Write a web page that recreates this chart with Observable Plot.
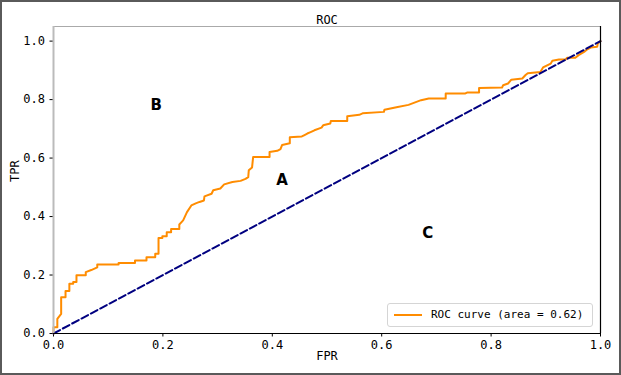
<!DOCTYPE html>
<html>
<head>
<meta charset="utf-8">
<script src="https://cdn.jsdelivr.net/npm/d3@7"></script>
<script src="https://cdn.jsdelivr.net/npm/@observablehq/plot@0.6"></script>
<style>
  html, body { margin: 0; padding: 0; background: #fff; }
  #wrap { position: relative; width: 621px; height: 375px; overflow: hidden; }
  #frame { position: absolute; left: 0; top: 0; width: 621px; height: 375px; box-sizing: border-box; border: 2px solid #5a5a5a; pointer-events: none; }
  #legend { position: absolute; left: 387px; top: 303px; width: 206px; height: 24px; box-sizing: border-box;
    border: 1px solid #d5d5d5; border-radius: 3px; background: rgba(255,255,255,0.85);
    font-family: "DejaVu Sans Mono", monospace; font-size: 11px; color: #000; }
  #legend .sw { position: absolute; left: 6px; top: 10px; width: 28px; height: 0; border-top: 2px solid #ff8c00; }
  #legend .tx { position: absolute; left: 43px; top: 4px; white-space: pre; }
</style>
</head>
<body>
<div id="wrap"></div>
<script>
// ROC curve vertices (false positive rate, true positive rate)
const fpr = [0,0,0.007,0.007,0.014,0.014,0.022,0.022,0.029,0.029,0.036,0.036,0.042,0.042,0.059,0.059,0.069,0.080,0.080,0.119,0.119,0.149,0.149,0.170,0.170,0.186,0.186,0.192,0.192,0.199,0.199,0.207,0.207,0.215,0.215,0.230,0.230,0.237,0.244,0.252,0.260,0.267,0.275,0.276,0.289,0.292,0.305,0.312,0.327,0.342,0.351,0.356,0.357,0.363,0.365,0.395,0.395,0.409,0.415,0.418,0.432,0.432,0.454,0.458,0.464,0.470,0.477,0.490,0.493,0.506,0.507,0.537,0.537,0.559,0.565,0.604,0.605,0.627,0.649,0.672,0.686,0.717,0.717,0.753,0.756,0.778,0.778,0.820,0.822,0.831,0.837,0.857,0.863,0.867,0.890,0.895,0.909,0.912,0.924,0.936,0.939,0.954,0.960,0.970,0.976,0.982,0.994,0.995,1.0];
const tpr = [0,0.021,0.021,0.050,0.067,0.124,0.124,0.145,0.145,0.170,0.170,0.176,0.176,0.199,0.199,0.210,0.217,0.226,0.236,0.236,0.241,0.241,0.250,0.250,0.261,0.261,0.273,0.273,0.327,0.327,0.333,0.333,0.346,0.346,0.357,0.357,0.373,0.387,0.415,0.438,0.445,0.450,0.455,0.469,0.478,0.490,0.496,0.510,0.518,0.522,0.529,0.535,0.558,0.568,0.604,0.604,0.621,0.625,0.631,0.645,0.651,0.671,0.674,0.678,0.684,0.689,0.695,0.704,0.712,0.718,0.727,0.727,0.743,0.748,0.753,0.758,0.765,0.774,0.782,0.798,0.804,0.804,0.821,0.821,0.824,0.824,0.840,0.841,0.849,0.855,0.868,0.872,0.884,0.890,0.894,0.910,0.923,0.933,0.937,0.937,0.943,0.943,0.952,0.963,0.972,0.978,0.981,0.992,1.0];
// chance diagonal
const diagX = [0, 1];
const diagY = [0, 1];
// region annotations
const regionLabels = ["B", "A", "C"];
const regionX = [0.188, 0.418, 0.684];
const regionY = [0.781, 0.524, 0.342];
// ticks
const xTicks = [0, 0.2, 0.4, 0.6, 0.8, 1.0];
const yTicks = [0, 0.2, 0.4, 0.6, 0.8, 1.0];
const titleText = "ROC";
const xLabel = "FPR";
const yLabel = "TPR";
const legendText = "ROC curve (area = 0.62)";

const roc = fpr.map((f, i) => ({f, t: tpr[i]}));
const diag = diagX.map((d, i) => ({f: d, t: diagY[i]}));
const regions = regionLabels.map((l, i) => ({l, x: regionX[i], y: regionY[i]}));

const mono = "DejaVu Sans Mono, monospace";

const chart = Plot.plot({
  width: 621,
  height: 375,
  marginLeft: 53,
  marginRight: 21,
  marginTop: 26,
  marginBottom: 42,
  style: {fontFamily: mono, fontSize: "12px", color: "#000", background: "#fff"},
  x: {domain: [0, 1], ticks: xTicks},
  y: {domain: [0, 1.05], ticks: yTicks},
  marks: [
    Plot.axisX({ticks: xTicks, tickFormat: d3.format(".1f"), tickSize: 3.5, tickPadding: 3, label: null, fontSize: 12, fontFamily: mono, stroke: "#000"}),
    Plot.axisY({ticks: yTicks, tickFormat: d3.format(".1f"), tickSize: 3.5, tickPadding: 5, label: null, fontSize: 12, fontFamily: mono, stroke: "#000"}),
    Plot.line(roc, {x: "f", y: "t", stroke: "#ff8c00", strokeWidth: 2}),
    Plot.line(diag, {x: "f", y: "t", stroke: "#000080", strokeWidth: 2, strokeDasharray: "7.4,3.2"}),
    Plot.text(regions, {x: "x", y: "y", text: "l", fontSize: 15, fontWeight: "bold", fontFamily: "DejaVu Sans, sans-serif", fill: "#000"}),
    Plot.ruleY([1.05], {stroke: "#aaaaaa", strokeWidth: 1}),
    Plot.ruleX([0], {stroke: "#bbbbbb", strokeWidth: 2}),
    Plot.ruleY([0], {stroke: "#000", strokeWidth: 1.2}),
    Plot.ruleX([1], {stroke: "#000", strokeWidth: 1.2}),
    Plot.text([titleText], {frameAnchor: "top", dy: -11, fontSize: 12, fontFamily: mono, fill: "#000"}),
    Plot.text([xLabel], {frameAnchor: "bottom", dy: 26, fontSize: 12, fontFamily: mono, fill: "#000"}),
    Plot.text([yLabel], {frameAnchor: "left", dx: -38, dy: 2, rotate: -90, fontSize: 12, fontFamily: mono, fill: "#000"})
  ]
});

const wrap = document.getElementById("wrap");
wrap.appendChild(chart);
const leg = document.createElement("div");
leg.id = "legend";
leg.innerHTML = '<div class="sw"></div><div class="tx"></div>';
leg.querySelector(".tx").textContent = legendText;
wrap.appendChild(leg);
const fr = document.createElement("div");
fr.id = "frame";
wrap.appendChild(fr);
</script>
</body>
</html>
